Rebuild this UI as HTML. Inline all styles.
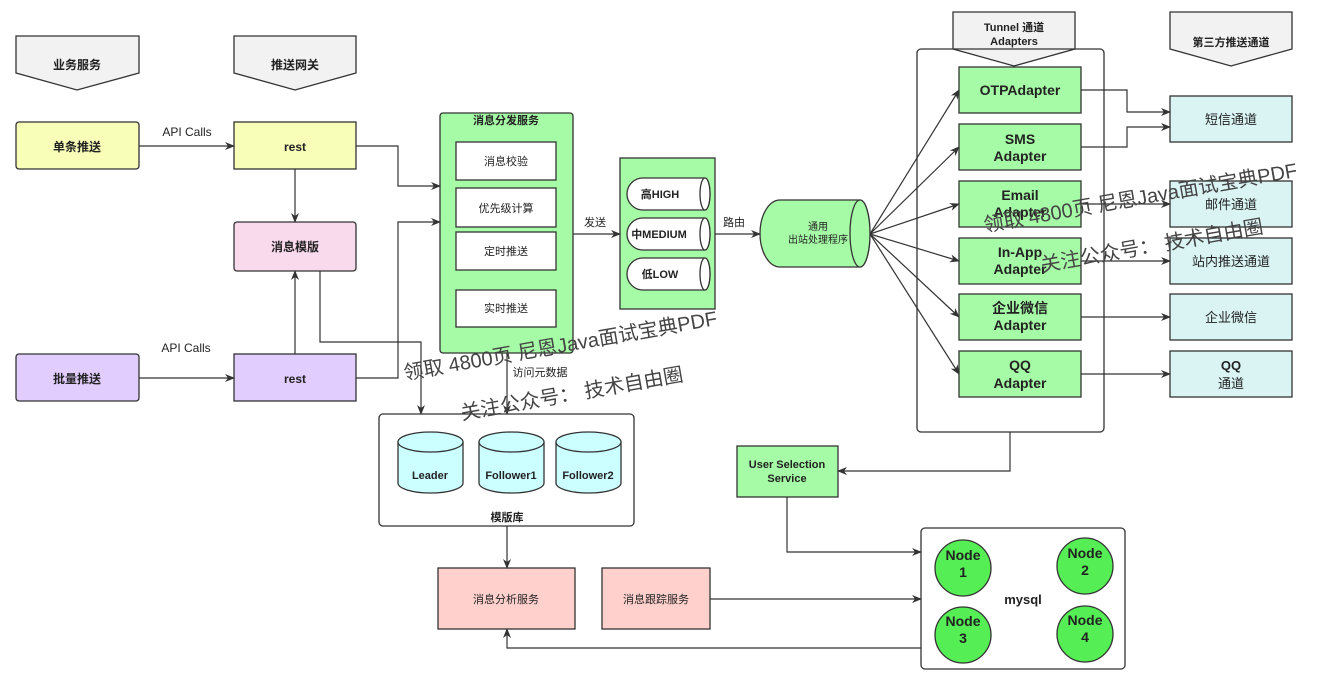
<!DOCTYPE html>
<html><head><meta charset="utf-8"><style>
body{margin:0;background:#fff}
svg text{font-family:"Liberation Sans","Noto Sans CJK SC",sans-serif;fill:#222}
</style></head><body>
<svg width="1325" height="689" viewBox="0 0 1325 689" xmlns="http://www.w3.org/2000/svg">
<defs><marker id="a" markerWidth="10" markerHeight="8" refX="9" refY="4" orient="auto" markerUnits="userSpaceOnUse"><path d="M0,0 L10,4 L0,8 L3,4z" fill="#333"/></marker></defs>
<g stroke="#333" stroke-width="1.3">
<path d="M16,36H139V73L77,90L16,73Z" fill="#f2f2f2"/>
<path d="M234,36H356V73L295,90L234,73Z" fill="#f2f2f2"/>
<path d="M953,12H1075V49L1014,66L953,49Z" fill="#f2f2f2"/>
<path d="M1170,12H1292V49L1231,66L1170,49Z" fill="#f2f2f2"/>
<rect x="917" y="49" width="187" height="383" rx="4" fill="none"/>
<rect x="16" y="122" width="123" height="47" rx="3" fill="#f8fdb8"/>
<rect x="234" y="122" width="122" height="47" fill="#f8fdb8"/>
<rect x="234" y="222" width="122" height="49" rx="3" fill="#f9d9ec"/>
<rect x="16" y="354" width="123" height="47" rx="3" fill="#e2cdff"/>
<rect x="234" y="354" width="122" height="47" fill="#e2cdff"/>
<rect x="440" y="113" width="133" height="240" rx="3" fill="#a6fca6"/>
<rect x="456" y="142" width="100" height="38" fill="#fff"/>
<rect x="456" y="188" width="100" height="39" fill="#fff"/>
<rect x="456" y="232" width="100" height="38" fill="#fff"/>
<rect x="456" y="290" width="100" height="37" fill="#fff"/>
<rect x="620" y="158" width="95" height="151" fill="#a6fca6"/>
<path d="M643,178H705A5,16 0 0 1 705,210H643A16,16 0 0 1 643,178Z" fill="#fff"/><ellipse cx="705" cy="194" rx="5" ry="16" fill="#fff"/>
<path d="M643,218H705A5,16 0 0 1 705,250H643A16,16 0 0 1 643,218Z" fill="#fff"/><ellipse cx="705" cy="234" rx="5" ry="16" fill="#fff"/>
<path d="M643,258H705A5,16 0 0 1 705,290H643A16,16 0 0 1 643,258Z" fill="#fff"/><ellipse cx="705" cy="274" rx="5" ry="16" fill="#fff"/>
<path d="M780,200H860A10,33.5 0 0 1 860,267H780A20,33.5 0 0 1 780,200Z" fill="#a6fca6"/><ellipse cx="860" cy="233.5" rx="10" ry="33.5" fill="#a6fca6"/>
<g fill="#a6fca6">
<rect x="959" y="67" width="122" height="46"/><rect x="959" y="124" width="122" height="46"/>
<rect x="959" y="181" width="122" height="46"/><rect x="959" y="238" width="122" height="46"/>
<rect x="959" y="294" width="122" height="46"/><rect x="959" y="351" width="122" height="46"/>
</g>
<g fill="#daf4f4">
<rect x="1170" y="96" width="122" height="46"/><rect x="1170" y="181" width="122" height="46"/>
<rect x="1170" y="238" width="122" height="46"/><rect x="1170" y="294" width="122" height="46"/>
<rect x="1170" y="351" width="122" height="46"/>
</g>
<rect x="379" y="414" width="255" height="112" rx="4" fill="#fff"/>
<g fill="#ccffff">
<path d="M398,442V483A32.5,10 0 0 0 463,483V442"/><ellipse cx="430.5" cy="442" rx="32.5" ry="10"/>
<path d="M479,442V483A32.5,10 0 0 0 544,483V442"/><ellipse cx="511.5" cy="442" rx="32.5" ry="10"/>
<path d="M556,442V483A32.5,10 0 0 0 621,483V442"/><ellipse cx="588.5" cy="442" rx="32.5" ry="10"/>
</g>
<rect x="737" y="446" width="101" height="51" fill="#a6fca6"/>
<rect x="438" y="568" width="137" height="61" fill="#ffd0cc"/>
<rect x="602" y="568" width="108" height="61" fill="#ffd0cc"/>
<rect x="921" y="528" width="204" height="141" rx="4" fill="#fff"/>
<g fill="#55ee55"><circle cx="963" cy="568" r="28"/><circle cx="1085" cy="566" r="28"/><circle cx="963" cy="635" r="28"/><circle cx="1085" cy="634" r="28"/></g>
</g>
<g stroke="#333" stroke-width="1.2" fill="none" marker-end="url(#a)">
<path d="M139,146H234"/><path d="M139,378H234"/>
<path d="M356,146H398V186H440"/><path d="M356,378H398V222H440"/>
<path d="M295,169V222"/><path d="M295,354V271"/>
<path d="M320,271V342H421V414"/><path d="M507,353V414"/>
<path d="M573,234H620"/><path d="M715,234H760"/>
<path d="M870,234L959,90"/><path d="M870,234L959,147"/><path d="M870,234L959,204"/><path d="M870,234L959,261"/><path d="M870,234L959,317"/><path d="M870,234L959,374"/>
<path d="M1081,90H1127V112H1170"/><path d="M1081,147H1127V127H1170"/>
<path d="M1081,204H1170"/><path d="M1081,261H1170"/><path d="M1081,317H1170"/><path d="M1081,374H1170"/>
<path d="M1010,432V471H838"/><path d="M787,497V552H921"/><path d="M710,599H921"/>
<path d="M921,648H507V629"/><path d="M507,526V568"/>
</g>
<g font-size="12" font-weight="bold" text-anchor="middle">
<text x="77" y="69">业务服务</text><text x="295" y="69">推送网关</text>
<text x="1014" y="31" font-size="11">Tunnel 通道</text><text x="1014" y="45" font-size="11">Adapters</text>
<text x="1231" y="46" font-size="11">第三方推送通道</text>
<text x="77" y="151">单条推送</text><text x="295" y="151">rest</text>
<text x="295" y="251">消息模版</text><text x="77" y="383">批量推送</text><text x="295" y="383">rest</text>
<text x="506" y="124" font-size="11">消息分发服务</text>
<g font-weight="normal" font-size="11"><text x="506" y="165">消息校验</text><text x="506" y="212">优先级计算</text><text x="506" y="255">定时推送</text><text x="506" y="312">实时推送</text>
<text x="595" y="226">发送</text><text x="734" y="226">路由</text><text x="540" y="376">访问元数据</text></g>
<text x="660" y="198" font-size="11">高HIGH</text><text x="659" y="238" font-size="11">中MEDIUM</text><text x="660" y="278" font-size="11">低LOW</text>
<text x="818" y="230" font-size="10" font-weight="normal">通用</text><text x="818" y="243" font-size="10" font-weight="normal">出站处理程序</text>
<g font-size="14"><text x="1020" y="95">OTPAdapter</text>
<text x="1020" y="144">SMS</text><text x="1020" y="161">Adapter</text>
<text x="1020" y="200">Email</text><text x="1020" y="217">Adapter</text>
<text x="1020" y="257">In-App</text><text x="1020" y="274">Adapter</text>
<text x="1020" y="313">企业微信</text><text x="1020" y="330">Adapter</text>
<text x="1020" y="370">QQ</text><text x="1020" y="388">Adapter</text></g>
<g font-weight="normal" font-size="13"><text x="1231" y="124">短信通道</text><text x="1231" y="209">邮件通道</text><text x="1231" y="266">站内推送通道</text><text x="1231" y="322">企业微信</text>
<text x="1231" y="370" font-weight="bold">QQ</text><text x="1231" y="388">通道</text>
<text x="187" y="136" font-size="12">API Calls</text><text x="186" y="352" font-size="12">API Calls</text></g>
<text x="430" y="479" font-size="11">Leader</text><text x="511" y="479" font-size="11">Follower1</text><text x="588" y="479" font-size="11">Follower2</text>
<text x="507" y="521" font-size="11">模版库</text>
<text x="787" y="468" font-size="11">User Selection</text><text x="787" y="482" font-size="11">Service</text>
<text x="506" y="603" font-size="11" font-weight="normal">消息分析服务</text><text x="656" y="603" font-size="11" font-weight="normal">消息跟踪服务</text>
<text x="1023" y="604" font-size="13">mysql</text>
<g font-size="14"><text x="963" y="560">Node</text><text x="963" y="577">1</text><text x="1085" y="558">Node</text><text x="1085" y="575">2</text>
<text x="963" y="626">Node</text><text x="963" y="643">3</text><text x="1085" y="625">Node</text><text x="1085" y="642">4</text></g>
</g>
<g font-size="20">
<text x="405" y="380" transform="rotate(-10 405 380)" style="fill:#444">领取 4800页  尼恩Java面试宝典PDF</text>
<text x="462" y="420" transform="rotate(-10 462 420)" style="fill:#444">关注公众号：  技术自由圈</text>
<text x="985" y="232" transform="rotate(-10 985 232)" style="fill:#444">领取 4800页  尼恩Java面试宝典PDF</text>
<text x="1042" y="272" transform="rotate(-10 1042 272)" style="fill:#444">关注公众号：  技术自由圈</text>
</g>
</svg>
</body></html>
